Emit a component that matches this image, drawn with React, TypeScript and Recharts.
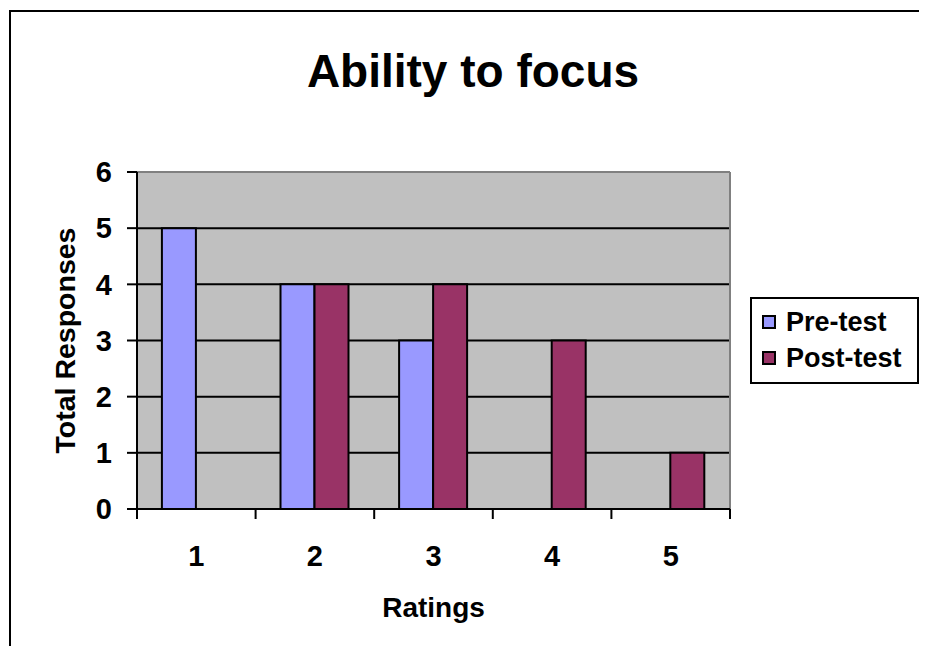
import {
  BarChart,
  Bar,
  XAxis,
  YAxis,
  CartesianGrid,
  Legend,
  Label,
} from 'recharts';

const categories = ['1', '2', '3', '4', '5'];
const preTest = [5, 4, 3, 0, 0];
const postTest = [0, 4, 4, 3, 1];
const yTicks = [0, 1, 2, 3, 4, 5, 6];
const seriesNames = ['Pre-test', 'Post-test'];

const PRE_COLOR = '#9999FF';
const POST_COLOR = '#993366';
const FONT = '"Liberation Sans", Arial, sans-serif';

const CHART_W = 916;
const CHART_H = 636;
const MARGIN = { top: 160, right: 197, left: 0, bottom: 0 };
const Y_AXIS_W = 126;
const X_AXIS_H = CHART_H - MARGIN.top - 337;
const PLOT_W = CHART_W - MARGIN.right - MARGIN.left - Y_AXIS_W;

const data = categories.map((rating, i) => ({
  rating,
  pre: preTest[i],
  post: postTest[i],
}));

interface TickProps {
  x?: number;
  y?: number;
  index?: number;
  visibleTicksCount?: number;
  payload?: { value: string; offset?: number };
}

// Excel style: tick marks sit between the categories, labels in the middle
function RatingTick({ x = 0, y = 0, index = 0, visibleTicksCount = 1, payload }: TickProps) {
  const half = payload?.offset || PLOT_W / categories.length / 2;
  const last = index === visibleTicksCount - 1;
  return (
    <g>
      <line x1={x - half} x2={x - half} y1={y} y2={y + 10} stroke="#000" strokeWidth={2} />
      {last && <line x1={x + half} x2={x + half} y1={y} y2={y + 10} stroke="#000" strokeWidth={2} />}
      <text
        x={x}
        y={y + 57}
        textAnchor="middle"
        fontSize={29}
        fontWeight="bold"
        fontFamily={FONT}
        fill="#000"
      >
        {payload?.value}
      </text>
    </g>
  );
}

function YTitle({ viewBox }: { viewBox?: { x: number; y: number; height: number } }) {
  if (!viewBox) return null;
  const cx = viewBox.x + 54;
  const cy = viewBox.y + viewBox.height / 2;
  return (
    <text
      x={cx}
      y={cy}
      transform={`rotate(-90 ${cx} ${cy})`}
      textAnchor="middle"
      dominantBaseline="central"
      fontSize={28.5}
      fontWeight="bold"
      fontFamily={FONT}
      fill="#000"
    >
      Total Responses
    </text>
  );
}

interface LegendEntry {
  value: string;
  color?: string;
}

function LegendBox({ payload }: { payload?: LegendEntry[] }) {
  const items = [...(payload || [])].sort(
    (a, b) => seriesNames.indexOf(a.value) - seriesNames.indexOf(b.value),
  );
  return (
    <div
      style={{
        boxSizing: 'border-box',
        width: 169,
        height: 87,
        border: '2px solid #000',
        background: '#fff',
        padding: '5px 0 0 10px',
        fontFamily: FONT,
      }}
    >
      {items.map((entry) => (
        <div key={entry.value} style={{ display: 'flex', alignItems: 'center', height: 36 }}>
          <span
            style={{
              boxSizing: 'border-box',
              width: 14,
              height: 14,
              border: '2px solid #000',
              background: entry.color,
              marginRight: 10,
            }}
          />
          <span style={{ fontSize: 27, fontWeight: 'bold', color: '#000', lineHeight: 1 }}>
            {entry.value}
          </span>
        </div>
      ))}
    </div>
  );
}

export default function App() {
  return (
    <div
      style={{
        position: 'relative',
        left: 1,
        top: 2,
        width: 940,
        height: CHART_H,
        borderLeft: '2px solid #000',
        borderTop: '2px solid #000',
        fontFamily: FONT,
      }}
    >
      <style>{'html, body { overflow: hidden; }'}</style>
      <div
        style={{
          position: 'absolute',
          left: 0,
          top: 36,
          width: 924,
          textAlign: 'center',
          fontSize: 46,
          fontWeight: 'bold',
          lineHeight: 1,
          color: '#000',
        }}
      >
        Ability to focus
      </div>
      <BarChart
        width={CHART_W}
        height={CHART_H}
        data={data}
        margin={MARGIN}
        barCategoryGap="21%"
        barGap={0}
      >
        <CartesianGrid fill="#C0C0C0" stroke="#000" strokeWidth={2} vertical={false} />
        {/* grey frame on top and right of the plot, like Excel */}
        <CartesianGrid
          stroke="#808080"
          strokeWidth={2}
          horizontalCoordinatesGenerator={({ offset }: any) => [offset.top]}
          verticalCoordinatesGenerator={({ offset }: any) => [offset.left + offset.width]}
        />
        <XAxis
          dataKey="rating"
          height={X_AXIS_H}
          tickSize={0}
          tickMargin={0}
          tickLine={false}
          axisLine={{ stroke: '#000', strokeWidth: 2 }}
          tick={<RatingTick />}
          interval={0}
        >
          <Label
            value="Ratings"
            position="insideBottom"
            offset={31}
            fontSize={28}
            fontWeight="bold"
            fontFamily={FONT}
            fill="#000"
          />
        </XAxis>
        <YAxis
          width={Y_AXIS_W}
          domain={[0, 6]}
          ticks={yTicks}
          interval={0}
          tickSize={10}
          tickMargin={15}
          tickLine={{ stroke: '#000', strokeWidth: 2 }}
          axisLine={{ stroke: '#000', strokeWidth: 2 }}
          tick={{ fontSize: 29, fontWeight: 'bold', fill: '#000', fontFamily: FONT }}
        >
          <Label content={<YTitle />} />
        </YAxis>
        <Legend
          layout="vertical"
          align="center"
          verticalAlign="middle"
          content={<LegendBox />}
          wrapperStyle={{ left: 739, top: 285, width: 169 }}
        />
        <Bar dataKey="pre" name={seriesNames[0]} fill={PRE_COLOR} stroke="#000" strokeWidth={2} isAnimationActive={false} />
        <Bar dataKey="post" name={seriesNames[1]} fill={POST_COLOR} stroke="#000" strokeWidth={2} isAnimationActive={false} />
      </BarChart>
    </div>
  );
}
